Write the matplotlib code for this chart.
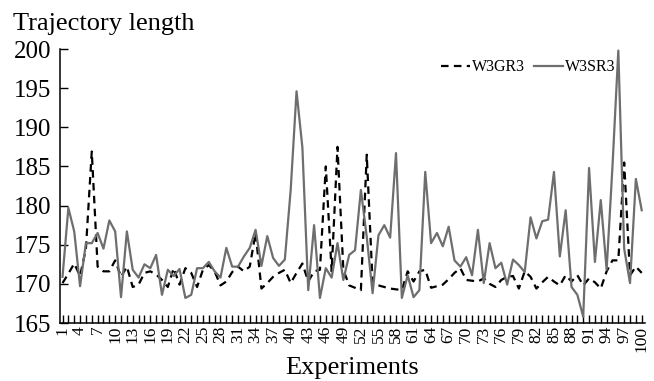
import matplotlib
matplotlib.use("Agg")
import matplotlib.pyplot as plt

experiments = list(range(1, 101))

w3gr3 = [170.1, 171.3, 172.6, 171.0, 174.5, 186.9, 172.2, 171.6, 171.6, 173.0,
         170.9, 172.2, 169.6, 169.9, 171.4, 171.6, 171.2, 170.5, 169.6, 172.0,
         169.9, 172.0, 171.4, 169.6, 171.8, 172.4, 171.6, 169.8, 170.3, 171.5,
         172.2, 171.6, 172.2, 176.5, 169.4, 170.1, 170.9, 171.4, 171.8, 170.1,
         171.4, 172.6, 170.3, 171.6, 171.8, 185.0, 171.6, 187.5, 171.8, 169.8,
         169.5, 169.2, 186.5, 170.1, 169.8, 169.6, 169.4, 169.3, 169.2, 171.6,
         170.3, 171.6, 171.8, 169.5, 169.7, 169.9, 170.6, 171.4, 172.0, 170.5,
         170.4, 170.3, 170.7, 170.0, 169.6, 170.5, 170.9, 171.0, 169.4, 171.6,
         170.9, 169.4, 170.2, 170.9, 170.3, 169.8, 171.1, 170.3, 171.1, 169.8,
         170.7, 170.2, 169.4, 171.6, 173.0, 173.0, 185.5, 171.1, 172.2, 171.4]

w3sr3 = [170.9, 179.7, 176.7, 169.7, 175.2, 175.2, 176.5, 174.5, 178.1, 176.7,
         168.3, 176.7, 171.8, 170.8, 172.5, 172.0, 173.7, 168.6, 171.8, 171.0,
         171.9, 168.2, 168.6, 172.0, 172.0, 172.8, 171.6, 170.8, 174.6, 172.2,
         172.2, 173.5, 174.6, 176.9, 172.3, 176.1, 173.3, 172.3, 173.1, 182.0,
         194.6, 187.4, 169.2, 177.5, 168.2, 172.0, 170.8, 175.2, 170.5, 173.7,
         174.3, 182.0, 176.0, 168.8, 176.2, 177.5, 175.9, 186.7, 168.2, 171.1,
         168.3, 169.2, 184.3, 175.2, 176.5, 174.8, 177.3, 173.0, 172.2, 173.4,
         171.1, 176.9, 170.1, 175.2, 172.0, 172.7, 169.9, 173.1, 172.4, 171.5,
         178.5, 175.8, 178.0, 178.2, 184.3, 173.5, 179.4, 169.6, 168.6, 165.8,
         184.8, 172.8, 180.7, 171.8, 185.0, 199.8, 174.5, 170.1, 183.4, 179.4]

y_ticks = [165, 170, 175, 180, 185, 190, 195, 200]

plt.rcParams["font.family"] = ["Liberation Serif", "DejaVu Serif"]

fig = plt.figure(figsize=(6.54, 3.81), dpi=100)
ax = fig.add_axes([60 / 654, 1 - 323 / 381, 585 / 654, (323 - 49) / 381])

ax.plot(experiments, w3gr3, color="black", lw=1.6, dashes=(3.4, 2.4), label="W3GR3")
ax.plot(experiments, w3sr3, color="#6e6e6e", lw=1.6, label="W3SR3")

ax.set_xlim(0.57, 100.56)
ax.set_ylim(165, 200)
ax.set_yticks(y_ticks)
ax.set_yticklabels([str(v) for v in y_ticks], fontsize=18)

ax.set_xticks(experiments)
ax.set_xticklabels([str(e) if (e - 1) % 3 == 0 else "" for e in experiments],
                   rotation=90, fontsize=12.5)

ax.tick_params(axis="both", direction="in", length=6, width=1, color="black")
ax.tick_params(axis="x", pad=2)
ax.tick_params(axis="y", pad=6)

for side in ("top", "right"):
    ax.spines[side].set_visible(False)
for side in ("left", "bottom"):
    ax.spines[side].set_linewidth(1.1)

ax.set_xlabel("Experiments", fontsize=19, labelpad=4)
fig.text(13 / 654, 1 - 30 / 381, "Trajectory length", fontsize=19,
         ha="left", va="baseline")

ax.legend(loc="upper right", bbox_to_anchor=(0.96, 0.985), ncol=2, frameon=False,
          fontsize=11.5, handlelength=1.8, handletextpad=0.1, columnspacing=0.6,
          borderaxespad=0)

fig.savefig("out.png", dpi=100)
